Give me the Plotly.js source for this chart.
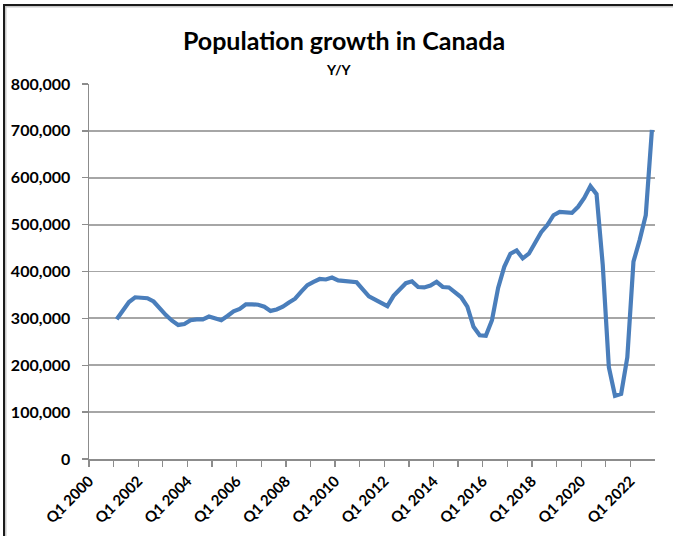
<!DOCTYPE html>
<html>
<head>
<meta charset="utf-8">
<script src="https://cdn.plot.ly/plotly-3.0.1.min.js"></script>
<style>
  html, body { margin: 0; padding: 0; background: #ffffff; overflow: hidden; width: 673px; height: 536px; }
  #wrap { position: relative; width: 673px; height: 536px; }
  #chart { position: absolute; left: 0; top: 0; width: 673px; height: 536px; }
  #frame { position: absolute; left: 3px; top: 4px; width: 700px; height: 600px;
           border-left: 2.5px solid #1a1a1a; border-top: 2.5px solid #1a1a1a;
           box-shadow: inset 1.5px 1.5px 0 #c8c8c8; pointer-events: none; }
</style>
</head>
<body>
<div id="wrap">
  <div id="chart"></div>
  <div id="frame"></div>
</div>
<script>
// Axis categories: quarters Q1 2000 .. Q4 2022 (first year has no Y/Y value)
const axisYears = [2000, 2001, 2002, 2003, 2004, 2005, 2006, 2007, 2008, 2009, 2010, 2011,
                   2012, 2013, 2014, 2015, 2016, 2017, 2018, 2019, 2020, 2021, 2022];
const quarterNames = ["Q1", "Q2", "Q3", "Q4"];
// Year-over-year population growth, Q1 2001 .. Q4 2022
const growth = [
  298000, 318000, 335000, 345000,   // 2001
  345000, 343000, 336000, 321000,   // 2002
  307000, 295000, 286000, 288000,   // 2003
  296000, 298000, 298000, 304000,   // 2004
  300000, 296000, 305000, 315000,   // 2005
  320000, 330000, 330000, 329000,   // 2006
  325000, 316000, 319000, 325000,   // 2007
  334000, 342000, 357000, 371000,   // 2008
  378000, 384000, 383000, 387000,   // 2009
  381000, 379000, 378000, 377000,   // 2010
  362000, 347000, 340000, 332000,   // 2011
  326000, 348000, 362000, 375000,   // 2012
  379000, 367000, 366000, 370000,   // 2013
  378000, 367000, 366000, 355000,   // 2014
  345000, 325000, 282000, 264000,   // 2015
  263000, 296000, 365000, 410000,   // 2016
  438000, 445000, 428000, 438000,   // 2017
  460000, 484000, 499000, 520000,   // 2018
  527000, 527000, 525000, 538000,   // 2019
  557000, 582000, 565000, 415000,   // 2020
  196000, 135000, 139000, 217000,   // 2021
  421000, 467000, 520000, 702000    // 2022
];
const firstDataYear = 2001;
const yTickVals = [0, 100000, 200000, 300000, 400000, 500000, 600000, 700000, 800000];
const yTickText = ["0", "100,000", "200,000", "300,000", "400,000", "500,000", "600,000", "700,000", "800,000"];

// Build category list and index positions
const categories = [];
axisYears.forEach(y => quarterNames.forEach(q => categories.push(q + " " + y)));
const xIdx = growth.map((_, i) => categories.indexOf(quarterNames[i % 4] + " " + (firstDataYear + Math.floor(i / 4))));
const labelsHover = growth.map((_, i) => categories[xIdx[i]]);

// Ticks at year boundaries, label every second year
const tickVals = [], tickText = [];
axisYears.forEach((y, k) => {
  tickVals.push(k * 4 - 0.5);
  tickText.push(k % 2 === 0 ? "Q1 " + y : "");
});

const FONT = "Lato, 'Open Sans', sans-serif";
const L = 89, R = 655, T = 84, B = 459;
const W = R - L, H = B - T;
const px = v => (v - L) / W;
const py = v => (B - v) / H;

const trace = {
  x: xIdx,
  y: growth,
  text: labelsHover,
  type: "scatter",
  mode: "lines",
  line: { color: "#4a7ebb", width: 4.2, shape: "linear" },
  hovertemplate: "%{text}: %{y:,}<extra></extra>"
};

const layout = {
  width: 673, height: 536,
  margin: { l: L, r: 673 - R, t: T, b: 536 - B, pad: 0 },
  paper_bgcolor: "#ffffff",
  plot_bgcolor: "#ffffff",
  showlegend: false,
  font: { family: FONT, color: "#000000" },
  title: {
    text: "<b>Population growth in Canada</b>",
    font: { family: FONT, size: 25, color: "#000000" },
    x: 344 / 673, xref: "container", xanchor: "center",
    y: 1 - 41 / 536, yref: "container", yanchor: "middle"
  },
  annotations: [{
    text: "<b>Y/Y</b>",
    xref: "paper", yref: "paper",
    x: px(339), y: py(70),
    xanchor: "center", yanchor: "middle",
    showarrow: false,
    font: { family: FONT, size: 14, color: "#000000" }
  }],
  xaxis: {
    type: "linear",
    range: [-0.5, 91.5],
    tickmode: "array",
    tickvals: tickVals,
    ticktext: tickText,
    tickangle: -45,
    ticks: "outside", ticklen: 6, tickwidth: 1.3, tickcolor: "#8c8c8c",
    showline: true, linecolor: "#8c8c8c", linewidth: 1.5,
    showgrid: false, zeroline: false,
    tickfont: { family: FONT, size: 15, color: "#000000", weight: "bold" },
    fixedrange: true
  },
  yaxis: {
    range: [0, 800000],
    tickmode: "array",
    tickvals: yTickVals,
    ticktext: yTickText,
    ticks: "outside", ticklen: 6, tickwidth: 1.3, tickcolor: "#8c8c8c",
    ticklabelstandoff: 8,
    showline: true, linecolor: "#8c8c8c", linewidth: 1.5,
    showgrid: true, gridcolor: "#a6a6a6", gridwidth: 1.8,
    zeroline: false,
    tickfont: { family: FONT, size: 16, color: "#000000", weight: "bold" },
    fixedrange: true
  }
};

Plotly.newPlot("chart", [trace], layout, { displayModeBar: false, staticPlot: true });
</script>
</body>
</html>
